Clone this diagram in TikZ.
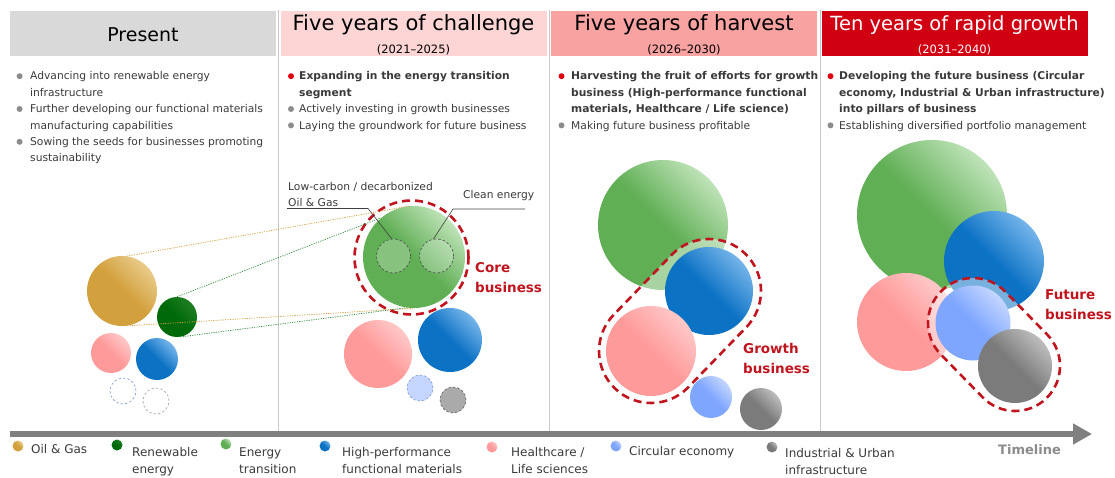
\documentclass[tikz,border=0pt]{standalone}
\usepackage{fontspec}
\setmainfont{DejaVu Sans}
\usetikzlibrary{arrows.meta,calc}

\definecolor{txtgray}{HTML}{3A3A3A}
\definecolor{hdgray}{HTML}{D9D9D9}
\definecolor{hdpink}{HTML}{FDD5D5}
\definecolor{hdsalmon}{HTML}{F8A2A2}
\definecolor{hdred}{HTML}{D00012}
\definecolor{sepgray}{HTML}{C8C8C8}
\definecolor{axisgray}{HTML}{808080}
\definecolor{dotgray}{HTML}{8C8C8C}
\definecolor{dotred}{HTML}{E00010}
\definecolor{markred}{HTML}{C0141E}
\definecolor{ogmain}{HTML}{D2A03C}
\definecolor{oglite}{HTML}{E9CB8A}
\definecolor{rnmain}{HTML}{006A0A}
\definecolor{rnlite}{HTML}{1F7F22}
\definecolor{etmain}{HTML}{60AF55}
\definecolor{etlite}{HTML}{BFE3B8}
\definecolor{hpmain}{HTML}{0C72C4}
\definecolor{hplite}{HTML}{74B4EA}
\definecolor{hcmain}{HTML}{FF9A9A}
\definecolor{hclite}{HTML}{FFC8C8}
\definecolor{cemain}{HTML}{7EA6FF}
\definecolor{celite}{HTML}{C4D6FF}
\definecolor{uimain}{HTML}{7B7B7B}
\definecolor{uilite}{HTML}{BDBDBD}

\tikzset{
    ball/.style 2 args={circle, inner sep=0pt, draw=none,
        bottom color=#1, top color=#2, middle color=#1, shading angle=-45},
    seed/.style={circle, inner sep=0pt, line width=0.6pt, dash pattern=on 2.5pt off 2pt},
    sub/.style={circle, inner sep=0pt, fill=white, fill opacity=0.25,
        draw=black!70, draw opacity=1, line width=0.6pt, dash pattern=on 2.5pt off 2pt},
    ring/.style={draw=markred, line width=2.6pt, dash pattern=on 8pt off 5pt},
    haze/.style={fill=white, fill opacity=0.45},
    hdbox/.style={rectangle, inner sep=0pt, minimum width=266pt, minimum height=45pt},
    hdtitle/.style={anchor=base, inner sep=0pt, font=\fontsize{21}{24}\selectfont},
    hdyears/.style={anchor=base, inner sep=0pt, font=\fontsize{11.5}{14}\selectfont},
    bullets/.style={anchor=base west, align=left, inner sep=0pt, text=txtgray,
        font=\fontsize{10.7}{16.4}\selectfont},
    note/.style={anchor=base west, align=left, inner sep=0pt, text=txtgray,
        font=\fontsize{10.7}{15.5}\selectfont},
    marktext/.style={anchor=base west, align=left, inner sep=0pt, text=markred,
        font=\bfseries\fontsize{13.5}{20.5}\selectfont},
    legend/.style={anchor=base west, align=left, inner sep=0pt, text=txtgray,
        font=\fontsize{12}{17.5}\selectfont},
    ogdots/.style={draw=ogmain, line width=0.7pt, dash pattern=on 1.2pt off 1.2pt},
    rndots/.style={draw=rnmain!80, line width=0.7pt, dash pattern=on 1.2pt off 1.2pt},
    leader/.style={draw=black!75, line width=0.6pt}
}

\begin{document}
\begin{tikzpicture}[x=1pt, y=1pt]
    \useasboundingbox (0,0) rectangle (1115,-478);

    % column separators and headers
    \foreach \sx in {278.5, 549.5, 820.5}
        \draw[sepgray, line width=0.8pt] (\sx,-10) -- (\sx,-432);
    \node[hdbox, fill=hdgray] (hdnow) at (143,-33.5) {};
    \node[hdbox, fill=hdpink] (hdchal) at (413.5,-33.5) {};
    \node[hdbox, fill=hdsalmon] (hdharv) at (684,-33.5) {};
    \node[hdbox, fill=hdred] (hdgrow) at (954.5,-33.5) {};
    \node[hdtitle, font=\fontsize{19}{22}\selectfont] (ttnow) at (143,-41.5) {Present};
    \node[hdtitle] (ttchal) at (413.5,-30.7) {Five years of challenge};
    \node[hdyears] (yrchal) at (413.5,-53.5) {(2021--2025)};
    \node[hdtitle] (ttharv) at (684,-30.7) {Five years of harvest};
    \node[hdyears] (yrharv) at (684,-53.5) {(2026--2030)};
    \node[hdtitle, text=white, font=\fontsize{19.5}{22}\selectfont] (ttgrow) at (954.5,-30.7) {Ten years of rapid growth};
    \node[hdyears, text=white] (yrgrow) at (954.5,-53.5) {(2031--2040)};

    % bullet lists (anchored on the last line)
    \fill[dotgray] (19.6,-76.2) circle (3);
    \fill[dotgray] (19.6,-109) circle (3);
    \fill[dotgray] (19.6,-141.8) circle (3);
    \node[bullets] (lsnow) at (30,-162) {Advancing into renewable energy\\infrastructure\\
        Further developing our functional materials\\manufacturing capabilities\\
        Sowing the seeds for businesses promoting\\sustainability};
    \fill[dotred] (291,-76.2) circle (3);
    \fill[dotgray] (291,-109) circle (3);
    \fill[dotgray] (291,-125.4) circle (3);
    \node[bullets] (lschal) at (299,-129.2) {\textbf{Expanding in the energy transition}\\\textbf{segment}\\
        Actively investing in growth businesses\\Laying the groundwork for future business};
    \fill[dotred] (561.5,-76.2) circle (3);
    \fill[dotgray] (561.5,-125.4) circle (3);
    \node[bullets] (lsharv) at (571,-129.2) {\textbf{Harvesting the fruit of efforts for growth}\\
        \textbf{business (High-performance functional}\\
        \textbf{materials, Healthcare / Life science)}\\Making future business profitable};
    \fill[dotred] (830.5,-76.2) circle (3);
    \fill[dotgray] (830.5,-125.4) circle (3);
    \node[bullets] (lsgrow) at (839,-129.2) {\textbf{Developing the future business (Circular}\\
        \textbf{economy, Industrial \& Urban infrastructure)}\\
        \textbf{into pillars of business}\\Establishing diversified portfolio management};

    % present
    \node[ball={ogmain}{oglite}, minimum size=70pt] (og0) at (122,-291) {};
    \node[ball={rnmain}{rnlite}, minimum size=40pt] (rn0) at (177,-317) {};
    \node[ball={hcmain}{hclite}, minimum size=40pt] (hc0) at (111,-353) {};
    \node[ball={hpmain}{hplite}, minimum size=42pt] (hp0) at (157,-359) {};
    \node[seed, draw=cemain!60!gray, minimum size=26pt] (ce0) at (123,-391) {};
    \node[seed, draw=uimain!70, minimum size=26pt] (ui0) at (156,-401) {};

    % five years of challenge
    \node[ball={etmain}{etlite}, minimum size=102pt] (et1) at (414,-257) {};
    \node[sub, minimum size=34pt] (lc1) at (393.5,-256) {};
    \node[sub, minimum size=34pt] (cl1) at (436.5,-256) {};
    \draw[ring] (411.5,-257.5) circle (57);
    \node[ball={hcmain}{hclite}, minimum size=68pt] (hc1) at (378,-354) {};
    \node[ball={hpmain}{hplite}, minimum size=64pt] (hp1) at (450,-340) {};
    \node[seed, fill=celite, draw=cemain!60!gray, minimum size=26pt] (ce1) at (420,-388) {};
    \node[seed, fill=uilite!90!black, draw=uimain!80!black, minimum size=26pt] (ui1) at (453,-400) {};
    \node[marktext] (corelbl) at (475,-292.5) {Core\\business};

    \draw[ogdots] (og0.82) -- (et1.95);
    \draw[ogdots] (og0.278) -- (et1.270);
    \draw[rndots] (rn0.90) -- (et1.130);
    \draw[rndots] (rn0.279) -- (et1.262);

    \node[note] (lclbl) at (288,-206.5) {Low-carbon / decarbonized\\Oil \& Gas};
    \node[note] (cllbl) at (463,-198.5) {Clean energy};
    \coordinate (lcfoot) at (287,-208.5);
    \coordinate (lcknee) at (368,-208.5);
    \coordinate (clfoot) at (525,-209);
    \coordinate (clknee) at (453,-209);
    \draw[leader] (lcfoot) -- (lcknee) -- (lc1.96);
    \draw[leader] (clfoot) -- (clknee) -- (cl1.100);

    % five years of harvest
    \coordinate (hvA) at (651,-351);
    \coordinate (hvB) at (709,-291);
    \node[ball={etmain}{etlite}, minimum size=130pt] (et2) at (663,-225) {};
    \fill[haze] ($(hvA)+(136:52)$) arc[start angle=136, end angle=316, radius=52]
        -- ($(hvB)+(316:52)$) arc[start angle=316, end angle=496, radius=52] -- cycle;
    \node[ball={hpmain}{hplite}, minimum size=88pt] (hp2) at (hvB) {};
    \node[ball={hcmain}{hclite}, minimum size=90pt] (hc2) at (hvA) {};
    \node[ball={cemain}{celite}, minimum size=42pt] (ce2) at (711,-397) {};
    \node[ball={uimain}{uilite}, minimum size=42pt] (ui2) at (761,-409) {};
    \draw[ring] ($(hvA)+(136:52)$) arc[start angle=136, end angle=316, radius=52]
        -- ($(hvB)+(316:52)$) arc[start angle=316, end angle=496, radius=52] -- cycle;
    \node[marktext] (growlbl) at (743,-373.5) {Growth\\business};

    % ten years of rapid growth
    \coordinate (rgA) at (973,-323);
    \coordinate (rgB) at (1015,-366);
    \node[ball={etmain}{etlite}, minimum size=150pt] (et3) at (932,-215) {};
    \node[ball={hpmain}{hplite}, minimum size=100pt] (hp3) at (994,-261) {};
    \node[ball={hcmain}{hclite}, minimum size=98pt] (hc3) at (906,-322) {};
    \fill[haze] ($(rgA)+(44:45)$) arc[start angle=44, end angle=224, radius=45]
        -- ($(rgB)+(224:45)$) arc[start angle=224, end angle=404, radius=45] -- cycle;
    \node[ball={cemain}{celite}, minimum size=75pt] (ce3) at (rgA) {};
    \node[ball={uimain}{uilite}, minimum size=74pt] (ui3) at (rgB) {};
    \draw[ring] ($(rgA)+(44:45)$) arc[start angle=44, end angle=224, radius=45]
        -- ($(rgB)+(224:45)$) arc[start angle=224, end angle=404, radius=45] -- cycle;
    \node[marktext] (futlbl) at (1045,-319.5) {Future\\business};

    % timeline
    \coordinate (tlstart) at (10,-434);
    \coordinate (tlend) at (1092,-434);
    \draw[axisgray, line width=6pt, -{Triangle[length=19pt, width=20pt]}] (tlstart) -- (tlend);
    \node[anchor=base west, inner sep=0pt, text=dotgray, font=\bfseries\fontsize{13}{15}\selectfont]
        (tllbl) at (998,-454) {Timeline};

    % legend
    \node[ball={ogmain}{oglite}, minimum size=11pt] (lgog) at (18,-446) {};
    \node[legend] (lgogt) at (31,-453) {Oil \& Gas};
    \node[ball={rnmain}{rnlite}, minimum size=11pt] (lgrn) at (117,-445) {};
    \node[legend] (lgrnt) at (132,-473.5) {Renewable\\energy};
    \node[ball={etmain}{etlite}, minimum size=11pt] (lget) at (226,-444) {};
    \node[legend] (lgett) at (239,-473.5) {Energy\\transition};
    \node[ball={hpmain}{hplite}, minimum size=11pt] (lghp) at (325,-446) {};
    \node[legend] (lghpt) at (342,-473.5) {High-performance\\functional materials};
    \node[ball={hcmain}{hclite}, minimum size=11pt] (lghc) at (492,-447) {};
    \node[legend] (lghct) at (511,-473.5) {Healthcare /\\Life sciences};
    \node[ball={cemain}{celite}, minimum size=11pt] (lgce) at (616,-446) {};
    \node[legend] (lgcet) at (629,-455) {Circular economy};
    \node[ball={uimain}{uilite}, minimum size=11pt] (lgui) at (772,-447) {};
    \node[legend] (lguit) at (785,-474.5) {Industrial \& Urban\\infrastructure};
\end{tikzpicture}
\end{document}
